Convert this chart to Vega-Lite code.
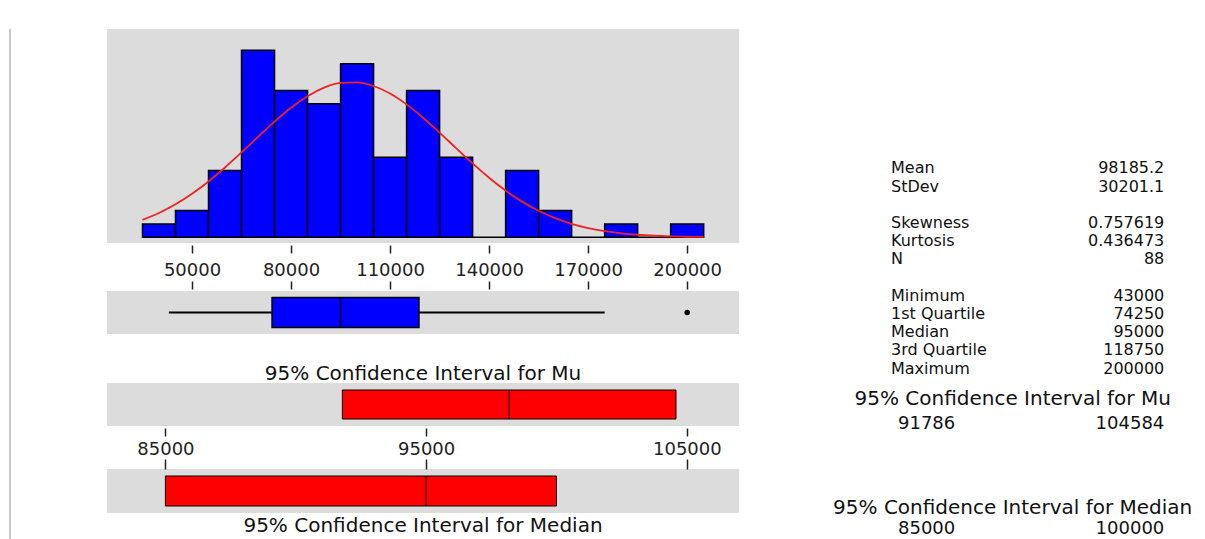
{
  "$schema": "https://vega.github.io/schema/vega-lite/v6.json",
  "padding": {"left": 9, "top": 28, "right": 0, "bottom": 0},
  "autosize": {"type": "pad"},
  "background": "white",
  "config": {
    "font": "DejaVu Sans",
    "view": {"stroke": null},
    "title": {"font": "DejaVu Sans", "fontSize": 20, "fontWeight": "normal", "color": "#111111"}
  },
  "datasets": {
    "hist": [
      {"bin_start": 35000, "bin_end": 45000, "count": 1},
      {"bin_start": 45000, "bin_end": 55000, "count": 2},
      {"bin_start": 55000, "bin_end": 65000, "count": 5},
      {"bin_start": 65000, "bin_end": 75000, "count": 14},
      {"bin_start": 75000, "bin_end": 85000, "count": 11},
      {"bin_start": 85000, "bin_end": 95000, "count": 10},
      {"bin_start": 95000, "bin_end": 105000, "count": 13},
      {"bin_start": 105000, "bin_end": 115000, "count": 6},
      {"bin_start": 115000, "bin_end": 125000, "count": 11},
      {"bin_start": 125000, "bin_end": 135000, "count": 6},
      {"bin_start": 135000, "bin_end": 145000, "count": 0},
      {"bin_start": 145000, "bin_end": 155000, "count": 5},
      {"bin_start": 155000, "bin_end": 165000, "count": 2},
      {"bin_start": 165000, "bin_end": 175000, "count": 0},
      {"bin_start": 175000, "bin_end": 185000, "count": 1},
      {"bin_start": 185000, "bin_end": 195000, "count": 0},
      {"bin_start": 195000, "bin_end": 205000, "count": 1}
    ],
    "curve": [
      {"value": 35000, "fitted": 1.303},
      {"value": 40000, "fitted": 1.817},
      {"value": 45000, "fitted": 2.466},
      {"value": 50000, "fitted": 3.256},
      {"value": 55000, "fitted": 4.182},
      {"value": 60000, "fitted": 5.227},
      {"value": 65000, "fitted": 6.356},
      {"value": 70000, "fitted": 7.521},
      {"value": 75000, "fitted": 8.658},
      {"value": 80000, "fitted": 9.697},
      {"value": 85000, "fitted": 10.568},
      {"value": 90000, "fitted": 11.205},
      {"value": 95000, "fitted": 11.56},
      {"value": 100000, "fitted": 11.603},
      {"value": 105000, "fitted": 11.332},
      {"value": 110000, "fitted": 10.768},
      {"value": 115000, "fitted": 9.955},
      {"value": 120000, "fitted": 8.955},
      {"value": 125000, "fitted": 7.838},
      {"value": 130000, "fitted": 6.675},
      {"value": 135000, "fitted": 5.53},
      {"value": 140000, "fitted": 4.458},
      {"value": 145000, "fitted": 3.496},
      {"value": 150000, "fitted": 2.668},
      {"value": 155000, "fitted": 1.981},
      {"value": 160000, "fitted": 1.431},
      {"value": 165000, "fitted": 1.006},
      {"value": 170000, "fitted": 0.688},
      {"value": 175000, "fitted": 0.458},
      {"value": 180000, "fitted": 0.296},
      {"value": 185000, "fitted": 0.187},
      {"value": 190000, "fitted": 0.114},
      {"value": 195000, "fitted": 0.068},
      {"value": 200000, "fitted": 0.04},
      {"value": 205000, "fitted": 0.022}
    ],
    "summary": [
      {"minimum": 43000, "q1": 74250, "median": 95000, "q3": 118750, "whisker_high": 175000, "maximum": 200000}
    ],
    "ci": [
      {"interval": "Mu", "label": "95% Confidence Interval for Mu", "low": 91786, "high": 104584, "center": 98185.2},
      {"interval": "Median", "label": "95% Confidence Interval for Median", "low": 85000, "high": 100000, "center": 95000}
    ],
    "stats": [
      {"stat": "Mean", "value": "98185.2"},
      {"stat": "StDev", "value": "30201.1"},
      {"stat": "Skewness", "value": "0.757619"},
      {"stat": "Kurtosis", "value": "0.436473"},
      {"stat": "N", "value": "88"},
      {"stat": "Minimum", "value": "43000"},
      {"stat": "1st Quartile", "value": "74250"},
      {"stat": "Median", "value": "95000"},
      {"stat": "3rd Quartile", "value": "118750"},
      {"stat": "Maximum", "value": "200000"}
    ]
  },
  "hconcat": [
    {
      "width": 1,
      "height": 511,
      "data": {"values": [{"edge": 0}]},
      "mark": {"type": "rule", "color": "#b4b4b4", "strokeWidth": 1.5},
      "encoding": {
        "x": {"field": "edge", "type": "quantitative", "scale": {"domain": [0, 1]}, "axis": null}
      }
    },
    {
      "hconcat": [
        {
          "vconcat": [
            {
              "width": 632,
              "height": 214,
              "view": {"fill": "#dcdcdc", "stroke": null},
              "layer": [
                {
                  "data": {"name": "hist"},
                  "mark": {"type": "bar", "fill": "#0000ff", "stroke": "#000000", "strokeWidth": 1.5},
                  "encoding": {
                    "x": {"field": "bin_start", "type": "quantitative",
                      "scale": {"domain": [24250, 215700], "nice": false, "zero": false},
                      "axis": {"values": [50000, 80000, 110000, 140000, 170000, 200000], "format": "d", "domain": false, "grid": false, "offset": 2, "tickSize": 8, "tickWidth": 1.5, "tickColor": "#222222", "labelPadding": 8, "labelFontSize": 18, "labelColor": "#222222", "title": null}},
                    "x2": {"field": "bin_end"},
                    "y": {"field": "count", "type": "quantitative", "scale": {"domain": [-0.43, 15.6], "nice": false, "zero": false}, "axis": null},
                    "y2": {"datum": 0}
                  }
                },
                {
                  "data": {"name": "curve"},
                  "mark": {"type": "line", "color": "#ee2222", "strokeWidth": 1.8, "interpolate": "monotone"},
                  "encoding": {
                    "x": {"field": "value", "type": "quantitative", "title": null},
                    "y": {"field": "fitted", "type": "quantitative", "title": null}
                  }
                }
              ]
            },
            {
              "vconcat": [
                {
                  "width": 632,
                  "height": 43,
                  "data": {"name": "summary"},
                  "view": {"fill": "#dcdcdc", "stroke": null},
                  "layer": [
                    {
                      "mark": {"type": "rule", "color": "#000000", "strokeWidth": 2},
                      "encoding": {
                        "x": {"field": "minimum", "type": "quantitative", "scale": {"domain": [24250, 215700], "nice": false, "zero": false},
                          "axis": {"orient": "top", "values": [50000, 80000, 110000, 140000, 170000, 200000], "labels": false, "domain": false, "grid": false, "offset": 2, "tickSize": 8, "tickWidth": 1.5, "tickColor": "#222222", "title": null}},
                        "x2": {"field": "q1"}
                      }
                    },
                    {
                      "mark": {"type": "rule", "color": "#000000", "strokeWidth": 2},
                      "encoding": {
                        "x": {"field": "q3", "type": "quantitative", "title": null},
                        "x2": {"field": "whisker_high"}
                      }
                    },
                    {
                      "mark": {"type": "bar", "fill": "#0000ff", "stroke": "#000000", "strokeWidth": 1.5, "size": 30},
                      "encoding": {
                        "x": {"field": "q1", "type": "quantitative", "title": null},
                        "x2": {"field": "q3"},
                        "y": {"datum": "box", "type": "nominal", "axis": null}
                      }
                    },
                    {
                      "mark": {"type": "tick", "color": "#000000", "thickness": 2, "size": 30},
                      "encoding": {
                        "x": {"field": "median", "type": "quantitative", "title": null},
                        "y": {"datum": "box", "type": "nominal", "axis": null}
                      }
                    },
                    {
                      "mark": {"type": "point", "filled": true, "color": "#000000", "opacity": 1, "size": 30},
                      "encoding": {
                        "x": {"field": "maximum", "type": "quantitative", "title": null},
                        "y": {"datum": "box", "type": "nominal", "axis": null}
                      }
                    }
                  ]
                },
                {
                  "vconcat": [
                    {
                      "width": 632,
                      "height": 43,
                      "title": {"text": "95% Confidence Interval for Mu", "orient": "top", "anchor": "middle", "baseline": "alphabetic", "offset": -17},
                      "data": {"name": "ci"},
                      "transform": [{"filter": "datum.interval === 'Mu'"}],
                      "view": {"fill": "#dcdcdc", "stroke": null},
                      "layer": [
                        {
                          "mark": {"type": "bar", "fill": "#ff0000", "stroke": "#000000", "strokeWidth": 1, "size": 29},
                          "encoding": {
                            "x": {"field": "low", "type": "quantitative", "scale": {"domain": [82760, 107000], "nice": false, "zero": false},
                              "axis": {"orient": "bottom", "values": [85000, 95000, 105000], "format": "d", "domain": false, "grid": false, "offset": 2, "tickSize": 8, "tickWidth": 1.5, "tickColor": "#222222", "labelPadding": 4, "labelFontSize": 18, "labelColor": "#222222", "title": null}},
                            "x2": {"field": "high"},
                            "y": {"datum": "ci", "type": "nominal", "axis": null}
                          }
                        },
                        {
                          "mark": {"type": "tick", "color": "#000000", "thickness": 1.5, "size": 29},
                          "encoding": {
                            "x": {"field": "center", "type": "quantitative", "title": null},
                            "y": {"datum": "ci", "type": "nominal", "axis": null}
                          }
                        }
                      ]
                    },
                    {
                      "width": 632,
                      "height": 44,
                      "title": {"text": "95% Confidence Interval for Median", "orient": "bottom", "anchor": "middle", "baseline": "top", "offset": 3},
                      "data": {"name": "ci"},
                      "transform": [{"filter": "datum.interval === 'Median'"}],
                      "view": {"fill": "#dcdcdc", "stroke": null},
                      "layer": [
                        {
                          "mark": {"type": "bar", "fill": "#ff0000", "stroke": "#000000", "strokeWidth": 1, "size": 30},
                          "encoding": {
                            "x": {"field": "low", "type": "quantitative", "scale": {"domain": [82760, 107000], "nice": false, "zero": false},
                              "axis": {"orient": "top", "values": [85000, 95000, 105000], "labels": false, "domain": false, "grid": false, "offset": 0, "tickSize": 10, "tickWidth": 1.5, "tickColor": "#222222", "title": null}},
                            "x2": {"field": "high"},
                            "y": {"datum": "ci", "type": "nominal", "axis": null}
                          }
                        },
                        {
                          "mark": {"type": "tick", "color": "#000000", "thickness": 1.5, "size": 30},
                          "encoding": {
                            "x": {"field": "center", "type": "quantitative", "title": null},
                            "y": {"datum": "ci", "type": "nominal", "axis": null}
                          }
                        }
                      ]
                    }
                  ],
                  "spacing": 43,
                  "bounds": "flush"
                }
              ],
              "spacing": 49,
              "bounds": "flush"
            }
          ],
          "spacing": 48,
          "bounds": "flush"
        },
        {
          "width": 364,
          "height": 505,
          "view": {"stroke": null},
          "layer": [
            {
              "data": {"name": "stats"},
              "mark": {"type": "text", "align": "left", "baseline": "middle", "fontSize": 16, "color": "#111111"},
              "encoding": {
                "x": {"datum": "label", "type": "nominal", "scale": {"type": "point", "domain": ["label", "mid", "value"], "range": [90, 363.3], "padding": 0}, "axis": null},
                "y": {"field": "stat", "type": "nominal", "scale": {"type": "point", "domain": ["Mean", "StDev", "gap1", "Skewness", "Kurtosis", "N", "gap2", "Minimum", "1st Quartile", "Median", "3rd Quartile", "Maximum"], "range": [139.3, 339.5], "padding": 0}, "axis": null},
                "text": {"field": "stat"}
              }
            },
            {
              "data": {"name": "stats"},
              "mark": {"type": "text", "align": "right", "baseline": "middle", "fontSize": 16, "color": "#111111"},
              "encoding": {
                "x": {"datum": "value", "type": "nominal", "scale": {"type": "point", "domain": ["label", "mid", "value"], "range": [90, 363.3], "padding": 0}, "axis": null},
                "y": {"field": "stat", "type": "nominal", "scale": {"type": "point", "domain": ["Mean", "StDev", "gap1", "Skewness", "Kurtosis", "N", "gap2", "Minimum", "1st Quartile", "Median", "3rd Quartile", "Maximum"], "range": [139.3, 339.5], "padding": 0}, "axis": null},
                "text": {"field": "value"}
              }
            },
            {
              "data": {"name": "ci"},
              "mark": {"type": "text", "align": "center", "baseline": "middle", "fontSize": 20, "color": "#111111", "dx": -15},
              "encoding": {
                "x": {"datum": "mid", "type": "nominal", "scale": {"type": "point", "domain": ["label", "mid", "value"], "range": [90, 363.3], "padding": 0}, "axis": null},
                "y": {"field": "interval", "type": "nominal", "scale": {"type": "point", "domain": ["Mu", "Median"], "range": [370.3, 478.7], "padding": 0}, "axis": null},
                "text": {"field": "label"}
              }
            },
            {
              "data": {"name": "ci"},
              "mark": {"type": "text", "align": "left", "baseline": "middle", "fontSize": 18, "color": "#111111", "dx": 7},
              "encoding": {
                "x": {"datum": "label", "type": "nominal", "scale": {"type": "point", "domain": ["label", "mid", "value"], "range": [90, 363.3], "padding": 0}, "axis": null},
                "y": {"field": "interval", "type": "nominal", "scale": {"type": "point", "domain": ["Mu", "Median"], "range": [395.3, 500], "padding": 0}, "axis": null},
                "text": {"field": "low", "type": "quantitative", "format": "d"}
              }
            },
            {
              "data": {"name": "ci"},
              "mark": {"type": "text", "align": "right", "baseline": "middle", "fontSize": 18, "color": "#111111"},
              "encoding": {
                "x": {"datum": "value", "type": "nominal", "scale": {"type": "point", "domain": ["label", "mid", "value"], "range": [90, 363.3], "padding": 0}, "axis": null},
                "y": {"field": "interval", "type": "nominal", "scale": {"type": "point", "domain": ["Mu", "Median"], "range": [395.3, 500], "padding": 0}, "axis": null},
                "text": {"field": "high", "type": "quantitative", "format": "d"}
              }
            }
          ],
          "resolve": {"scale": {"y": "independent"}}
        }
      ],
      "spacing": 62
    }
  ],
  "spacing": 96
}
